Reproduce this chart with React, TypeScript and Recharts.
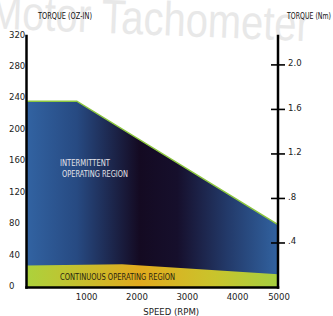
import React from 'react';
import { ComposedChart, Area, XAxis, YAxis } from 'recharts';

const intermittentSpeed = [0, 1000, 5000];
const intermittentTorque = [237, 237, 80];
const continuousSpeed = [0, 1900, 5000];
const continuousTorque = [28, 29.5, 17];

const speedTicks = [1000, 2000, 3000, 4000, 5000];
const ozTicks = [0, 40, 80, 120, 160, 200, 240, 280, 320];
const nmTicks = [0.4, 0.8, 1.2, 1.6, 2.0];
const nmLabels = ['.4', '.8', '1.2', '1.6', '2.0'];
const OZ_PER_NM = 141.612;

const intermittentData = intermittentSpeed.map((s, i) => ({ speed: s, torque: intermittentTorque[i] }));
const continuousData = continuousSpeed.map((s, i) => ({ speed: s, torque: continuousTorque[i] }));

const FONT = "'Liberation Sans Narrow', 'DejaVu Sans Condensed', 'Liberation Sans', sans-serif";
const BORDER = { stroke: '#000', strokeWidth: 2.5, strokeLinecap: 'square' as const };

const LeftTick = (props: any) => {
  const { x, y, payload } = props;
  return (
    <text x={x - 17.5} y={y - 2} textAnchor="start" dominantBaseline="central" fontSize={9.5} fontFamily={FONT} fill="#222">
      {payload.value}
    </text>
  );
};

const BottomTick = (props: any) => {
  const { x, y, payload } = props;
  const last = payload.value === speedTicks[speedTicks.length - 1];
  return (
    <text x={last ? x + 1 : x - 1} y={y + 8.5} textAnchor={last ? 'middle' : 'start'} dominantBaseline="central" fontSize={9.5} fontFamily={FONT} fill="#222">
      {payload.value}
    </text>
  );
};

const RightTick = (props: any) => {
  const { x, y, payload } = props;
  const idx = nmTicks.indexOf(payload.value);
  return (
    <g>
      <line x1={x - 7} x2={x + 7} y1={y} y2={y} stroke="#000" strokeWidth={1.6} />
      <text x={x + 10} y={y - 2} textAnchor="start" dominantBaseline="central" fontSize={9.5} fontFamily={FONT} fill="#222">
        {idx >= 0 ? nmLabels[idx] : payload.value}
      </text>
    </g>
  );
};

export default function App() {
  return (
    <div style={{ position: 'absolute', left: 0, top: 0, width: 333, height: 316, background: '#fff', overflow: 'hidden' }}>
      <svg width={333} height={316} style={{ position: 'absolute', left: 0, top: 0 }}>
        <text
          x={-11.5}
          y={33}
          fontSize={48}
          fontFamily="'Liberation Sans', Arial, sans-serif"
          fill="#e8e8e8"
          textLength={321}
          lengthAdjust="spacingAndGlyphs"
          transform="rotate(2.3 106 33)"
        >
          Motor Tachometer
        </text>
      </svg>
      <div style={{ position: 'absolute', left: 0, top: 0 }}>
        <ComposedChart width={333} height={316} margin={{ top: 36, right: 0, bottom: 0, left: 0 }}>
          <defs>
            <linearGradient id="gradInt" x1="0" y1="0" x2="1" y2="0">
              <stop offset="0%" stopColor="#3263a2" />
              <stop offset="20%" stopColor="#274a82" />
              <stop offset="45%" stopColor="#140a22" />
              <stop offset="60%" stopColor="#160f2c" />
              <stop offset="80%" stopColor="#233a6a" />
              <stop offset="100%" stopColor="#3162a0" />
            </linearGradient>
            <linearGradient id="gradCont" x1="0" y1="0" x2="1" y2="0">
              <stop offset="0%" stopColor="#acd23c" />
              <stop offset="45%" stopColor="#e2aa1e" />
              <stop offset="75%" stopColor="#c9c42c" />
              <stop offset="100%" stopColor="#a6cf40" />
            </linearGradient>
          </defs>
          <XAxis
            xAxisId="b"
            type="number"
            dataKey="speed"
            domain={[0, 5000]}
            ticks={speedTicks}
            height={28.5}
            tickSize={0}
            tickMargin={0}
            tick={<BottomTick />}
            axisLine={BORDER}
            tickLine={false}
            allowDataOverflow
            label={{ value: 'SPEED (RPM)', position: 'insideBottom', offset: 1, dx: 19, fontSize: 9.5, fontFamily: FONT, fill: '#222' }}
          />
          <XAxis
            xAxisId="t"
            orientation="top"
            type="number"
            dataKey="speed"
            domain={[0, 5000]}
            height={0}
            tick={false}
            tickLine={false}
            axisLine={BORDER}
            allowDataOverflow
          />
          <YAxis
            yAxisId="l"
            type="number"
            domain={[0, 320]}
            ticks={ozTicks}
            width={26.5}
            tickSize={0}
            tickMargin={0}
            tick={<LeftTick />}
            axisLine={BORDER}
            tickLine={false}
            allowDataOverflow
          />
          <YAxis
            yAxisId="r"
            orientation="right"
            type="number"
            domain={[0, 320 / OZ_PER_NM]}
            ticks={nmTicks}
            width={55}
            tickSize={0}
            tickMargin={0}
            tick={<RightTick />}
            axisLine={BORDER}
            tickLine={false}
            allowDataOverflow
          />
          <Area
            xAxisId="b"
            yAxisId="l"
            data={intermittentData}
            dataKey="torque"
            type="linear"
            fill="url(#gradInt)"
            fillOpacity={1}
            stroke="#8cc63f"
            strokeWidth={1.5}
            dot={false}
            activeDot={false}
            isAnimationActive={false}
          />
          <Area
            xAxisId="b"
            yAxisId="l"
            data={continuousData}
            dataKey="torque"
            type="linear"
            fill="url(#gradCont)"
            fillOpacity={1}
            stroke="none"
            dot={false}
            activeDot={false}
            isAnimationActive={false}
          />
        </ComposedChart>
      </div>
      <svg width={333} height={316} style={{ position: 'absolute', left: 0, top: 0, pointerEvents: 'none' }}>
        <g fontFamily={FONT} fontSize={9.5}>
          <text x={38} y={15} dominantBaseline="central" fill="#111" textLength={54} lengthAdjust="spacingAndGlyphs">TORQUE (OZ-IN)</text>
          <text x={331} y={15} textAnchor="end" dominantBaseline="central" fill="#111" textLength={44} lengthAdjust="spacingAndGlyphs">TORQUE (Nm)</text>
          <text x={60} y={162} dominantBaseline="central" fill="#e4e4ea" textLength={50} lengthAdjust="spacingAndGlyphs">INTERMITTENT</text>
          <text x={62} y={173} dominantBaseline="central" fill="#e4e4ea" textLength={66} lengthAdjust="spacingAndGlyphs">OPERATING REGION</text>
          <text x={60} y={276} dominantBaseline="central" fill="#2a2410" textLength={115} lengthAdjust="spacingAndGlyphs">CONTINUOUS  OPERATING REGION</text>
        </g>
      </svg>
    </div>
  );
}
